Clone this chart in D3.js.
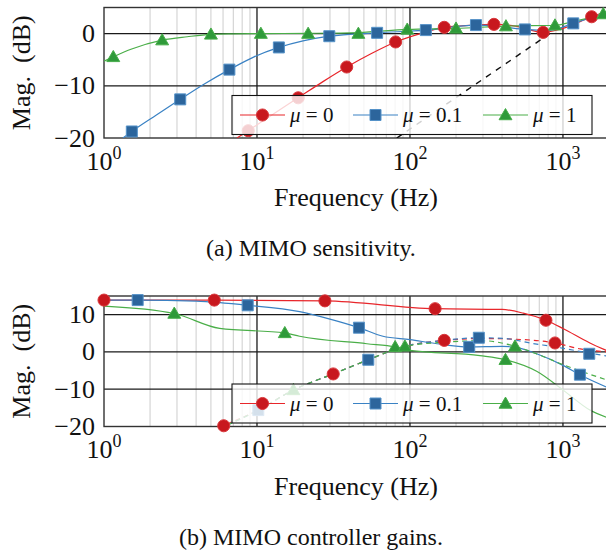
<!DOCTYPE html>
<html>
<head>
<meta charset="utf-8">
<script src="https://cdn.jsdelivr.net/npm/d3@7"></script>
<style>
  body { margin: 0; background: #fff; }
  svg text { fill: #111; }
</style>
</head>
<body>
<div id="chart"></div>
<script>
// ---- data: [frequency (Hz), magnitude (dB)] ----
// (a) sensitivity
const sensMu0Line = [[7.4,-20],[8.77,-18.6],[12.8,-15.4],[18.6,-12.3],[27,-9.2],[38.6,-6.4],[56,-3.8],[80.6,-1.6],[117,0],[167.6,1.2],[250,1.6],[354,1.77],[500,1.4],[743,0.23],[1000,1.0],[1540,3.23],[2000,4.4]];
const sensMu0Marks = [[8.77,-18.6],[18.6,-12.3],[38.6,-6.4],[80.6,-1.6],[167.6,1.2],[354,1.77],[743,0.23],[1540,3.23]];
const sensMu01Line = [[1.33,-20],[1.52,-18.75],[2.2,-15.6],[3.15,-12.6],[4.5,-9.7],[6.6,-6.9],[9.5,-4.5],[13.9,-2.65],[20,-1.4],[29.7,-0.5],[61,0.15],[127,0.67],[270,1.63],[400,1.3],[564,0.8],[800,0.6],[1168,1.96],[2000,4.2]];
const sensMu01Marks = [[1.52,-18.75],[3.15,-12.6],[6.6,-6.9],[13.9,-2.65],[29.7,-0.5],[61,0.15],[127,0.67],[270,1.63],[564,0.8],[1168,1.96]];
const sensMu1Line = [[1,-5.3],[1.15,-4.46],[1.5,-3.0],[2.4,-1.25],[3.5,-0.6],[5,-0.15],[7,-0.05],[10.6,0],[21.6,0.05],[46,0.2],[96,0.8],[200,1.0],[424,1.44],[887,1.6],[1200,2.4],[1834,3.75],[2000,4.1]];
const sensMu1Marks = [[1.15,-4.46],[2.4,-1.25],[5,-0.15],[10.6,0],[21.6,0],[46,0],[96,0.8],[200,1.0],[424,1.44],[887,1.6],[1834,3.75]];
const sensBound = [[82,-20],[820,0]];

// (b) controller gains: solid and dashed curves per mu
const gainMu0Solid = [[1,13.9],[5.26,13.9],[27.8,13.7],[146,11.6],[400,11.4],[550,10.4],[774,8.5],[1000,6.3],[1500,2.4],[2000,0.1]];
const gainMu0SolidMarks = [[1,13.9],[5.26,13.9],[27.8,13.7],[146,11.6],[774,8.5]];
const gainMu0Dash = [[5,-21.5],[6.06,-19.8],[10.2,-15.6],[17.3,-10.2],[31.5,-5.9],[53.4,-2.1],[92.7,1.5],[167.6,3.1],[300,3.6],[608,3.2],[887,2.4],[1300,0.8],[2000,0]];
const gainMu0DashMarks = [[6.06,-19.8],[31.5,-5.9],[167.6,3.1],[887,2.4]];
const gainMu01Solid = [[1,13.9],[1.66,13.9],[4,13.6],[8.7,12.5],[19,10.8],[30,8.8],[46.4,6.5],[66.6,4.2],[100,3.3],[150,2.2],[244,1.35],[400,1.5],[520,1.0],[673,-0.5],[1000,-3.6],[1291,-6.1],[2000,-9.7]];
const gainMu01SolidMarks = [[1.66,13.9],[8.7,12.5],[46.4,6.5],[244,1.35],[1291,-6.1]];
const gainMu01Dash = [[5,-21.5],[10.2,-15.6],[17.3,-10.2],[31.5,-5.9],[53.4,-2.1],[92.7,1.5],[167.6,3.1],[282,3.8],[420,3.6],[608,2.4],[887,1.35],[1486,-0.3],[2000,-1.2]];
const gainMu01DashMarks = [[10.2,-15.6],[53.4,-2.1],[282,3.8],[1486,-0.5]];
const gainMu1Solid = [[1,12.3],[2.88,10.3],[5.7,6.3],[15.2,5.1],[19,4.2],[52.3,2.2],[80,1.35],[100,0.4],[287,-1.0],[421,-2.1],[673,-5.2],[1000,-10.2],[1500,-15.6],[2000,-17.8]];
const gainMu1SolidMarks = [[2.88,10.3],[15.2,5.1],[80,1.35],[421,-2.1]];
const gainMu1Dash = [[5,-21.5],[10.2,-15.6],[17.3,-10.2],[31.5,-5.9],[53.4,-2.1],[92.7,1.5],[167.6,2.6],[300,3.0],[486,1.5],[700,-0.8],[1000,-3.4],[1500,-6.0],[2000,-7.7]];
const gainMu1DashMarks = [[17.3,-10.2],[92.7,1.5],[486,1.5]];

const xTicks = [1, 10, 100, 1000];
const sensYTicks = [-20, -10, 0];
const gainYTicks = [-20, -10, 0, 10];
const legendLabels = ["0", "0.1", "1"];

const styles = [
  { line: "#e8262b", fill: "#c8181e", edge: "#d9383c", shape: d3.symbolCircle, size: 115 },
  { line: "#3a82c4", fill: "#2c659c", edge: "#5592c8", shape: d3.symbolSquare, size: 121 },
  { line: "#4aae48", fill: "#2f9a3a", edge: "#46ad49", shape: d3.symbolTriangle, size: 72 }
];

const svg = d3.select("#chart").append("svg").attr("width", 606).attr("height", 556)
  .attr("font-family", "'Liberation Serif', Tinos, 'Times New Roman', 'DejaVu Serif', serif");

function panel(id, top, yDomain, yTicks, curves, caption) {
  const left = 104, right = 609, bottom = top + 130.5;
  const x = d3.scaleLog().domain([1, 2000]).range([left, right]);
  const y = d3.scaleLinear().domain(yDomain).range([bottom, top]);
  const g = svg.append("g");

  svg.append("clipPath").attr("id", id).append("rect")
    .attr("x", left).attr("y", top).attr("width", right - left).attr("height", bottom - top);

  // minor grid
  const minor = [];
  for (let k = 0; k < 4; k++) for (let m = 2; m < 10; m++) if (m * 10 ** k < 2000) minor.push(m * 10 ** k);
  g.selectAll(".minor").data(minor).join("line")
    .attr("x1", d => x(d)).attr("x2", d => x(d)).attr("y1", top).attr("y2", bottom)
    .attr("stroke", "#cdcdcd").attr("stroke-width", 1);

  // major grid
  g.selectAll(".vmaj").data(xTicks.slice(1)).join("line")
    .attr("x1", d => x(d)).attr("x2", d => x(d)).attr("y1", top).attr("y2", bottom)
    .attr("stroke", "#1a1a1a").attr("stroke-width", 1.3);
  g.selectAll(".hmaj").data(yTicks.slice(1)).join("line")
    .attr("x1", left).attr("x2", right).attr("y1", d => y(d)).attr("y2", d => y(d))
    .attr("stroke", "#1a1a1a").attr("stroke-width", 1.3);

  // frame
  g.append("rect").attr("x", left).attr("y", top).attr("width", right - left).attr("height", bottom - top)
    .attr("fill", "none").attr("stroke", "#333").attr("stroke-width", 1.4);

  const line = d3.line().x(d => x(d[0])).y(d => y(d[1])).curve(d3.curveMonotoneX);
  const lines = g.append("g").attr("clip-path", `url(#${id})`);
  curves.forEach(c => {
    lines.append("path").attr("d", line(c.data)).attr("fill", "none")
      .attr("stroke", c.color || styles[c.s].line).attr("stroke-width", c.width || 1.2)
      .attr("stroke-dasharray", c.dash || null);
  });
  curves.filter(c => c.marks).forEach(c => {
    const st = styles[c.s];
    g.selectAll(null).data(c.marks).join("path")
      .attr("d", d3.symbol().type(st.shape).size(st.size))
      .attr("transform", d => `translate(${x(d[0])},${y(d[1]) + (c.s === 2 ? 1 : 0)})`)
      .attr("fill", st.fill).attr("stroke", st.edge).attr("stroke-width", 1);
  });

  // ticks
  g.selectAll(".yl").data(yTicks).join("text")
    .attr("x", 95).attr("y", d => y(d) + 8.5).attr("text-anchor", "end").attr("font-size", 26)
    .text(d => d < 0 ? "\u2212" + Math.abs(d) : d);
  const xl = g.selectAll(".xl").data(xTicks).join("text")
    .attr("x", d => x(d)).attr("y", bottom + 31.5).attr("text-anchor", "middle").attr("font-size", 26);
  xl.append("tspan").text("10");
  xl.append("tspan").attr("dy", -11).attr("font-size", 18).text(d => Math.round(Math.log10(d)));

  g.append("text").attr("x", 356).attr("y", bottom + 68).attr("text-anchor", "middle")
    .attr("font-size", 26).text("Frequency (Hz)");
  g.append("text").attr("transform", `translate(30,${(top + bottom) / 2}) rotate(-90)`)
    .attr("text-anchor", "middle").attr("font-size", 26).attr("xml:space", "preserve").text("Mag.  (dB)");
  g.append("text").attr("x", 311).attr("y", bottom + 118).attr("text-anchor", "middle")
    .attr("font-size", 24).text(caption);

  // legend
  const ly = bottom - 42.5, lh = 39;
  const lg = g.append("g");
  lg.append("rect").attr("x", 232).attr("y", ly).attr("width", 360).attr("height", lh)
    .attr("fill", "#fff").attr("fill-opacity", 0.8).attr("stroke", "#111").attr("stroke-width", 1.1);
  const cy = ly + lh / 2;
  const starts = [240, 353, 483];
  legendLabels.forEach((lab, i) => {
    const st = styles[i], sx = starts[i];
    lg.append("line").attr("x1", sx).attr("x2", sx + 45).attr("y1", cy).attr("y2", cy)
      .attr("stroke", st.line).attr("stroke-width", 1.2);
    lg.append("path").attr("d", d3.symbol().type(st.shape).size(st.size)())
      .attr("transform", `translate(${sx + 22.5},${cy + (i === 2 ? 1 : 0)})`)
      .attr("fill", st.fill).attr("stroke", st.edge);
    const t = lg.append("text").attr("x", sx + 50).attr("y", cy + 7).attr("font-size", 21).attr("xml:space", "preserve");
    t.append("tspan").attr("font-style", "italic").text("\u03bc");
    t.append("tspan").text(" = " + lab);
  });
}

panel("clipA", 7.5, [-20, 5], sensYTicks, [
  { data: sensBound, color: "#111", dash: "6,6", width: 1.4 },
  { data: sensMu0Line, marks: sensMu0Marks, s: 0 },
  { data: sensMu01Line, marks: sensMu01Marks, s: 1 },
  { data: sensMu1Line, marks: sensMu1Marks, s: 2 }
], "(a) MIMO sensitivity.");

panel("clipB", 296, [-20, 15], gainYTicks, [
  { data: gainMu0Solid, marks: gainMu0SolidMarks, s: 0 },
  { data: gainMu0Dash, marks: gainMu0DashMarks, s: 0, dash: "5,4" },
  { data: gainMu01Solid, marks: gainMu01SolidMarks, s: 1 },
  { data: gainMu01Dash, marks: gainMu01DashMarks, s: 1, dash: "5,4" },
  { data: gainMu1Solid, marks: gainMu1SolidMarks, s: 2 },
  { data: gainMu1Dash, marks: gainMu1DashMarks, s: 2, dash: "5,4" }
], "(b) MIMO controller gains.");
</script>
</body>
</html>
